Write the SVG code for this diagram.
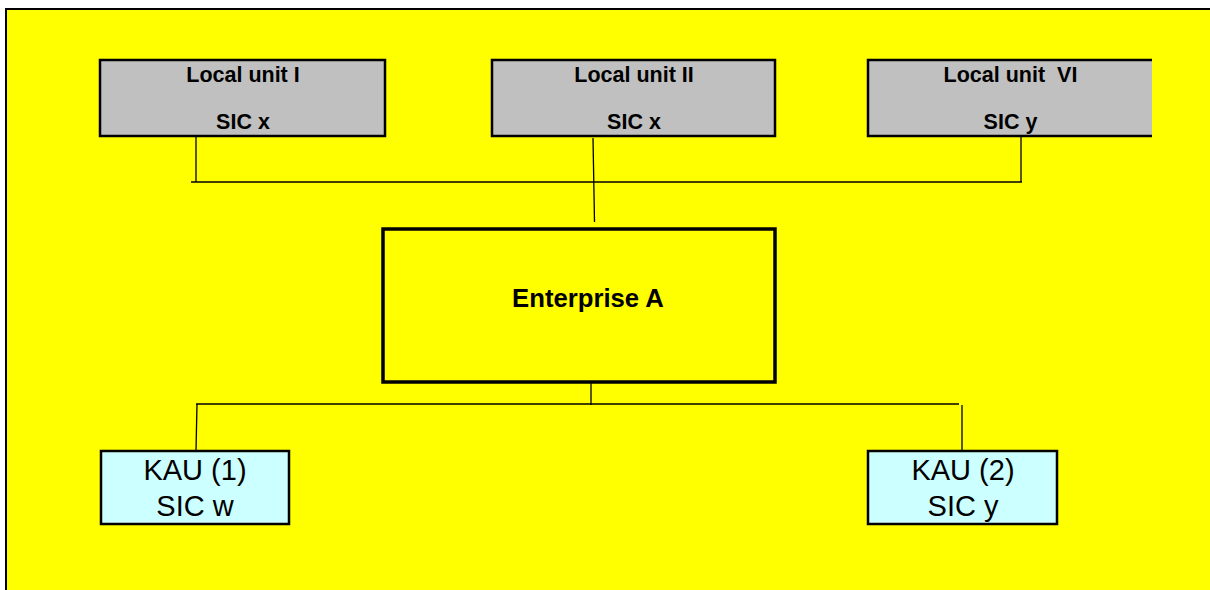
<svg xmlns="http://www.w3.org/2000/svg" width="1210" height="590" viewBox="0 0 1210 590">
<style>
.frame{fill:#FFFF00;stroke:#000;stroke-width:2}
.unit{fill:#C0C0C0;stroke:#000;stroke-width:2.5}
.kau{fill:#CCFFFF;stroke:#000;stroke-width:2.5}
.ent{fill:#FFFF00;stroke:#000;stroke-width:3.5}
.conn line{stroke:#000;stroke-width:1.3}
.bt{font-family:"Liberation Sans",Arial,sans-serif;font-weight:bold;font-size:21.5px;fill:#000;text-anchor:middle;white-space:pre}
.et{font-family:"Liberation Sans",Arial,sans-serif;font-weight:bold;font-size:25.7px;fill:#000;text-anchor:middle}
.kt{font-family:"Liberation Sans",Arial,sans-serif;font-size:29px;fill:#000;text-anchor:middle}
</style>
<rect class="frame" x="6" y="9" width="1220" height="600"/>
<g id="connectors" class="conn">
<line x1="196" y1="136" x2="196" y2="182"/>
<line x1="191" y1="182" x2="1022" y2="182"/>
<line x1="1021" y1="136" x2="1021" y2="182"/>
<line x1="593" y1="138" x2="594.5" y2="222"/>
<line x1="591" y1="382" x2="591" y2="405"/>
<line x1="196" y1="404" x2="959" y2="404"/>
<line x1="197" y1="404" x2="196" y2="451"/>
<line x1="962" y1="405" x2="962" y2="451"/>
</g>
<g id="local-unit-1">
<rect class="unit" x="100" y="60" width="285" height="76"/>
<text class="bt" x="243" y="82">Local unit I</text>
<text class="bt" x="243" y="128.5">SIC x</text>
</g>
<g id="local-unit-2">
<rect class="unit" x="492" y="60" width="283" height="76"/>
<text class="bt" x="634" y="82">Local unit II</text>
<text class="bt" x="634" y="128.5">SIC x</text>
</g>
<g id="local-unit-6">
<rect x="868" y="60" width="284" height="76" fill="#C0C0C0"/>
<path d="M1152,60 H868 V136 H1152" fill="none" stroke="#000" stroke-width="2.5"/>
<text class="bt" x="1010.5" y="82" xml:space="preserve">Local unit  VI</text>
<text class="bt" x="1010.5" y="128.5">SIC y</text>
</g>
<g id="enterprise-a">
<rect class="ent" x="383" y="229" width="392" height="153"/>
<text class="et" x="588" y="306.5">Enterprise A</text>
</g>
<g id="kau-1">
<rect class="kau" x="101" y="451" width="188" height="73"/>
<text class="kt" x="195" y="480">KAU (1)</text>
<text class="kt" x="195" y="516">SIC w</text>
</g>
<g id="kau-2">
<rect class="kau" x="868" y="451" width="189" height="73"/>
<text class="kt" x="963" y="480">KAU (2)</text>
<text class="kt" x="963" y="516">SIC y</text>
</g>
</svg>
